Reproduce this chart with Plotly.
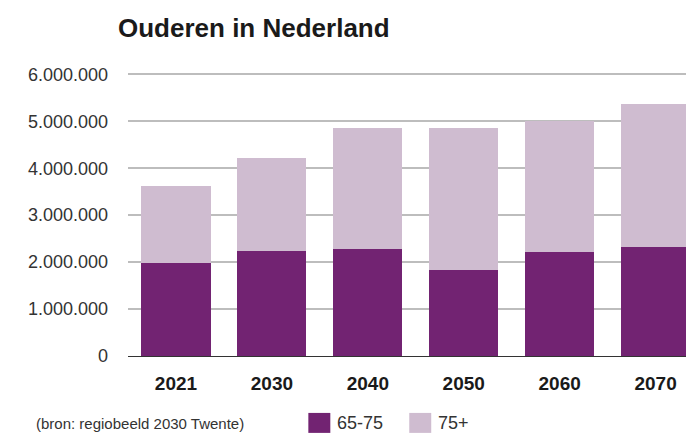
import plotly.graph_objects as go

years = ["2021", "2030", "2040", "2050", "2060", "2070"]
age_65_75 = [1980000, 2240000, 2290000, 1840000, 2220000, 2330000]
age_75_plus = [1650000, 1980000, 2560000, 3010000, 2780000, 3030000]
y_ticks = [0, 1000000, 2000000, 3000000, 4000000, 5000000, 6000000]
y_tick_labels = ["0", "1.000.000", "2.000.000", "3.000.000", "4.000.000", "5.000.000", "6.000.000"]
series = [("65-75", age_65_75, "#722372"), ("75+", age_75_plus, "#cfbcd0")]

FONT = "Liberation Sans"

W, H = 686, 425
L, T, B = 119.5, 63.6, 77
PW = W - L
PH = H - T - B


def px(x):
    return (x - L) / PW


def py(y):
    return (H - B - y) / PH


fig = go.Figure()
for name, vals, col in series:
    fig.add_trace(go.Bar(x=years, y=vals, name=name, marker=dict(color=col, line=dict(width=0))))

fig.update_layout(
    width=W, height=H,
    barmode="stack", bargap=0.28,
    plot_bgcolor="white", paper_bgcolor="white",
    margin=dict(l=L, r=0, t=T, b=B, pad=0, autoexpand=False),
    font=dict(family=FONT, color="#333333"),
    title=dict(text="<b>Ouderen in Nederland</b>", x=110/W, xanchor="left", y=1-20/H, yanchor="middle",
               font=dict(size=26, color="#1a1a1a", family=FONT)),
    xaxis=dict(range=[-0.5, 5.4], showgrid=False, showline=False, ticks="", ticklabelstandoff=14,
               automargin=False,
               tickfont=dict(size=19, color="#1a1a1a", family=FONT), tickprefix="<b>", ticksuffix="</b>"),
    yaxis=dict(range=[0, 6050000], tickvals=y_ticks, ticktext=y_tick_labels, automargin=False,
               showgrid=True, gridcolor="#bdbdbd", gridwidth=1.5,
               zeroline=True, zerolinecolor="#333333", zerolinewidth=1,
               ticks="", ticklabelstandoff=19, tickfont=dict(size=18, color="#333333", family=FONT)),
    showlegend=False,
)

# legend drawn as squares + labels
legend_x = [300, 401]
for (name, vals, col), lx in zip(series, legend_x):
    fig.add_shape(type="rect", xref="paper", yref="paper",
                  x0=px(lx), x1=px(lx + 22), y0=py(425), y1=py(405),
                  fillcolor=col, line=dict(width=0))
    fig.add_annotation(text=name, xref="paper", yref="paper", x=px(lx + 27), y=py(415),
                       xanchor="left", yanchor="middle", showarrow=False,
                       font=dict(size=18, color="#333333", family=FONT))

fig.add_annotation(text="(bron: regiobeeld 2030 Twente)", xref="paper", yref="paper",
                   x=px(25), y=py(416), xanchor="left", yanchor="middle", showarrow=False,
                   font=dict(size=15, color="#333333", family=FONT))

fig.write_html("out.html")
